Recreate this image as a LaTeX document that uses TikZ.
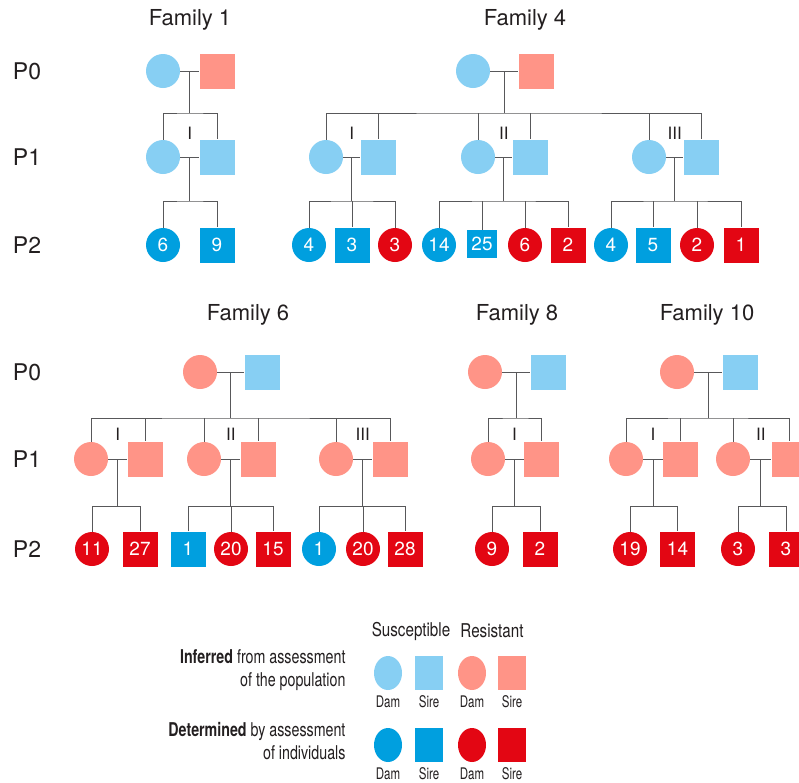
\documentclass[tikz,border=0pt]{standalone}
\usepackage{fontspec}
\setmainfont{TeX Gyre Heros}
\usetikzlibrary{calc,shapes.geometric}
\definecolor{ink}{RGB}{35,31,32}
\definecolor{kingray}{RGB}{88,88,90}
\definecolor{susblue}{RGB}{135,207,243}
\definecolor{ressalmon}{RGB}{255,148,135}
\definecolor{detblue}{RGB}{0,159,223}
\definecolor{detred}{RGB}{227,6,19}
\tikzset{
    dam/.style={
        circle,
        minimum size=34pt,
        inner sep=0pt,
        text=white,
        font=\fontsize{19}{19}\selectfont,
    },
    sire/.style={
        rectangle,
        minimum size=35pt,
        inner sep=0pt,
        text=white,
        font=\fontsize{19}{19}\selectfont,
    },
    keydam/.style={ellipse, minimum width=28pt, minimum height=34pt, inner sep=0pt},
    keysire/.style={rectangle, minimum width=28pt, minimum height=34pt, inner sep=0pt},
    sus/.style={fill=susblue},
    res/.style={fill=ressalmon},
    sus'/.style={fill=detblue},
    res'/.style={fill=detred},
    kin/.style={draw=kingray, line width=1pt},
    gen/.style={text=ink, font=\fontsize{23}{23}\selectfont},
    family/.style={text=ink, font=\fontsize{22}{22}\selectfont},
    roman/.style={text=ink, font=\fontsize{17}{17}\selectfont},
    legend/.style={text=ink, font=\fontsize{19}{23}\selectfont},
    sex/.style={text=ink, inner sep=1pt, font=\fontsize{16}{16}\selectfont},
}

\begin{document}
\begin{tikzpicture}[x=1pt, y=-1pt]
    \useasboundingbox (0,0) rectangle (799,782);
    \clip (0,0) rectangle (799,782);
    \fill[white] (0,0) rectangle (799,782);

    % generations
    \node[gen] (g0a) at (27,71) {P0};
    \node[gen] (g1a) at (27,157) {P1};
    \node[gen] (g2a) at (27,245) {P2};
    \node[gen] (g0b) at (27,372) {P0};
    \node[gen] (g1b) at (27,459) {P1};
    \node[gen] (g2b) at (27,549) {P2};

    % Family 1
    \node[family] (f1) at (190,20) {Family 1};
    \node[dam,sus] (f1d0) at (163,71) {};
    \node[sire,res] (f1s0) at (217,71) {};
    \node[dam,sus] (f1d1) at (163,157) {};
    \node[sire,sus] (f1s1) at (217,157) {};
    \node[dam,sus'] (f1c1) at (163,245) {6};
    \node[sire,sus'] (f1c2) at (217,245) {9};
    \coordinate (f1m0) at ($(f1d0.east)!.5!(f1s0.west)$);
    \coordinate (f1m1) at ($(f1d1.east)!.5!(f1s1.west)$);
    \node[roman] (f1r1) at ($(f1m1)+(0,-24)$) {I};
    \draw[kin] (f1d0) -- (f1s0) (f1m0) -- ++(0,42) coordinate (f1b0);
    \draw[kin] (f1d1) |- (f1b0) -| (f1s1);
    \draw[kin] (f1d1) -- (f1s1) (f1m1) -- ++(0,44) coordinate (f1b1);
    \draw[kin] (f1c1) |- (f1b1) -| (f1c2);

    % Family 4
    \node[family] (f4) at (525,20) {Family 4};
    \node[dam,sus] (f4d0) at (473,71) {};
    \node[sire,res] (f4s0) at (536,71) {};
    \node[dam,sus] (f4d1) at (326,157) {};
    \node[sire,sus] (f4s1) at (378,157) {};
    \node[dam,sus] (f4d2) at (478,157) {};
    \node[sire,sus] (f4s2) at (530,157) {};
    \node[dam,sus] (f4d3) at (649,157) {};
    \node[sire,sus] (f4s3) at (701,157) {};
    \node[dam,sus'] (f4c11) at (309,245) {4};
    \node[sire,sus'] (f4c12) at (352,245) {3};
    \node[dam,res'] (f4c13) at (395,245) {3};
    \node[dam,sus'] (f4c21) at (439,245) {14};
    \node[sire,sus',minimum width=30pt,minimum height=28pt] (f4c22) at (482,244) {25};
    \node[dam,res'] (f4c23) at (525,245) {6};
    \node[sire,res'] (f4c24) at (568,245) {2};
    \node[dam,sus'] (f4c31) at (611,245) {4};
    \node[sire,sus'] (f4c32) at (653,245) {5};
    \node[dam,res'] (f4c33) at (697,245) {2};
    \node[sire,res'] (f4c34) at (741,245) {1};
    \coordinate (f4m0) at ($(f4d0.east)!.5!(f4s0.west)$);
    \draw[kin] (f4d0) -- (f4s0) (f4m0) -- ++(0,42) coordinate (f4b0);
    \draw[kin] (f4d1) |- (f4b0) -| (f4s3);
    \foreach \n in {f4s1,f4d2,f4s2,f4d3}
        \draw[kin] (f4b0 -| \n) -- (\n);
    \foreach \i/\r in {1/I,2/II,3/III} {
        \coordinate (f4m\i) at ($(f4d\i.east)!.5!(f4s\i.west)$);
        \node[roman] (f4r\i) at ($(f4m\i)+(0,-24)$) {\r};
        \draw[kin] (f4d\i) -- (f4s\i) (f4m\i) -- ++(0,44) coordinate (f4b\i);
    }
    \draw[kin] (f4c11) |- (f4b1) -| (f4c13);
    \draw[kin] (f4c21) |- (f4b2) -| (f4c24);
    \draw[kin] (f4c31) |- (f4b3) -| (f4c34);
    \foreach \b/\n in {1/f4c12,2/f4c22,2/f4c23,3/f4c32,3/f4c33}
        \draw[kin] (f4b\b -| \n) -- (\n);

    % Family 6
    \node[family] (f6) at (248,315) {Family 6};
    \node[dam,res] (f6d0) at (200,372) {};
    \node[sire,sus] (f6s0) at (262,372) {};
    \node[dam,res] (f6d1) at (91,459) {};
    \node[sire,res] (f6s1) at (145,459) {};
    \node[dam,res] (f6d2) at (204,459) {};
    \node[sire,res] (f6s2) at (258,459) {};
    \node[dam,res] (f6d3) at (336,459) {};
    \node[sire,res] (f6s3) at (390,459) {};
    \node[dam,res'] (f6c11) at (92,549) {11};
    \node[sire,res'] (f6c12) at (140,549) {27};
    \node[sire,sus'] (f6c21) at (188,549) {1};
    \node[dam,res'] (f6c22) at (231,549) {20};
    \node[sire,res'] (f6c23) at (273,549) {15};
    \node[dam,sus'] (f6c31) at (319,549) {1};
    \node[dam,res'] (f6c32) at (363,549) {20};
    \node[sire,res'] (f6c33) at (405,549) {28};
    \coordinate (f6m0) at ($(f6d0.east)!.5!(f6s0.west)$);
    \draw[kin] (f6d0) -- (f6s0) (f6m0) -- ++(0,46) coordinate (f6b0);
    \draw[kin] (f6d1) |- (f6b0) -| (f6s3);
    \foreach \n in {f6s1,f6d2,f6s2,f6d3}
        \draw[kin] (f6b0 -| \n) -- (\n);
    \foreach \i/\r in {1/I,2/II,3/III} {
        \coordinate (f6m\i) at ($(f6d\i.east)!.5!(f6s\i.west)$);
        \node[roman] (f6r\i) at ($(f6m\i)+(0,-25)$) {\r};
        \draw[kin] (f6d\i) -- (f6s\i) (f6m\i) -- ++(0,47) coordinate (f6b\i);
    }
    \draw[kin] (f6c11) |- (f6b1) -| (f6c12);
    \draw[kin] (f6c21) |- (f6b2) -| (f6c23);
    \draw[kin] (f6c31) |- (f6b3) -| (f6c33);
    \foreach \b/\n in {2/f6c22,3/f6c32}
        \draw[kin] (f6b\b -| \n) -- (\n);

    % Family 8
    \node[family] (f8) at (517,315) {Family 8};
    \node[dam,res] (f8d0) at (485,372) {};
    \node[sire,sus] (f8s0) at (548,372) {};
    \node[dam,res] (f8d1) at (488,459) {};
    \node[sire,res] (f8s1) at (541.5,459) {};
    \node[dam,res'] (f8c1) at (492,549) {9};
    \node[sire,res'] (f8c2) at (540,549) {2};
    \coordinate (f8m0) at ($(f8d0.east)!.5!(f8s0.west)$);
    \coordinate (f8m1) at ($(f8d1.east)!.5!(f8s1.west)$);
    \node[roman] (f8r1) at ($(f8m1)+(0,-25)$) {I};
    \draw[kin] (f8d0) -- (f8s0) (f8m0) -- ++(0,46) coordinate (f8b0);
    \draw[kin] (f8d1) |- (f8b0) -| (f8s1);
    \draw[kin] (f8d1) -- (f8s1) (f8m1) -- ++(0,47) coordinate (f8b1);
    \draw[kin] (f8c1) |- (f8b1) -| (f8c2);

    % Family 10
    \node[family] (f10) at (707,315) {Family 10};
    \node[dam,res] (f10d0) at (677,372) {};
    \node[sire,sus] (f10s0) at (740,372) {};
    \node[dam,res] (f10d1) at (626,459) {};
    \node[sire,res] (f10s1) at (680.5,459) {};
    \node[dam,res] (f10d2) at (733,459) {};
    \node[sire,res] (f10s2) at (789,459) {};
    \node[dam,res'] (f10c11) at (630,549) {19};
    \node[sire,res'] (f10c12) at (677.5,549) {14};
    \node[dam,res'] (f10c21) at (738,549) {3};
    \node[sire,res'] (f10c22) at (786,549) {3};
    \coordinate (f10m0) at ($(f10d0.east)!.5!(f10s0.west)$);
    \draw[kin] (f10d0) -- (f10s0) (f10m0) -- ++(0,46) coordinate (f10b0);
    \draw[kin] (f10d1) |- (f10b0) -| (f10s2);
    \foreach \n in {f10s1,f10d2}
        \draw[kin] (f10b0 -| \n) -- (\n);
    \foreach \i/\r in {1/I,2/II} {
        \coordinate (f10m\i) at ($(f10d\i.east)!.5!(f10s\i.west)$);
        \node[roman] (f10r\i) at ($(f10m\i)+(0,-25)$) {\r};
        \draw[kin] (f10d\i) -- (f10s\i) (f10m\i) -- ++(0,47) coordinate (f10b\i);
        \draw[kin] (f10c\i1) |- (f10b\i) -| (f10c\i2);
    }

    % legend
    \node[legend] (lsus) at (411,631) {\scalebox{.8}[1]{Susceptible}};
    \node[legend] (lres) at (492,631) {\scalebox{.8}[1]{Resistant}};
    \node[legend, anchor=east, align=right] (linf) at (349,670.5)
        {\scalebox{.75}[1]{\textbf{Inferred} from assessment}\\\scalebox{.75}[1]{of the population}};
    \node[legend, anchor=east, align=right] (ldet) at (349,741.5)
        {\scalebox{.75}[1]{\textbf{Determined} by assessment}\\\scalebox{.75}[1]{of individuals}};
    \node[keydam,sus] (k11) at (388,673) {};
    \node[keysire,sus] (k12) at (429,673) {};
    \node[keydam,res] (k13) at (472,673) {};
    \node[keysire,res] (k14) at (512,673) {};
    \node[keydam,sus'] (k21) at (388,745) {};
    \node[keysire,sus'] (k22) at (429,745) {};
    \node[keydam,res'] (k23) at (472,745) {};
    \node[keysire,res'] (k24) at (512,745) {};
    \foreach \k/\t in {11/Dam,12/Sire,13/Dam,14/Sire,21/Dam,22/Sire,23/Dam,24/Sire}
        \node[sex] (t\k) at ($(k\k)+(0,29)$) {\scalebox{.72}[1]{\t}};
\end{tikzpicture}
\end{document}
